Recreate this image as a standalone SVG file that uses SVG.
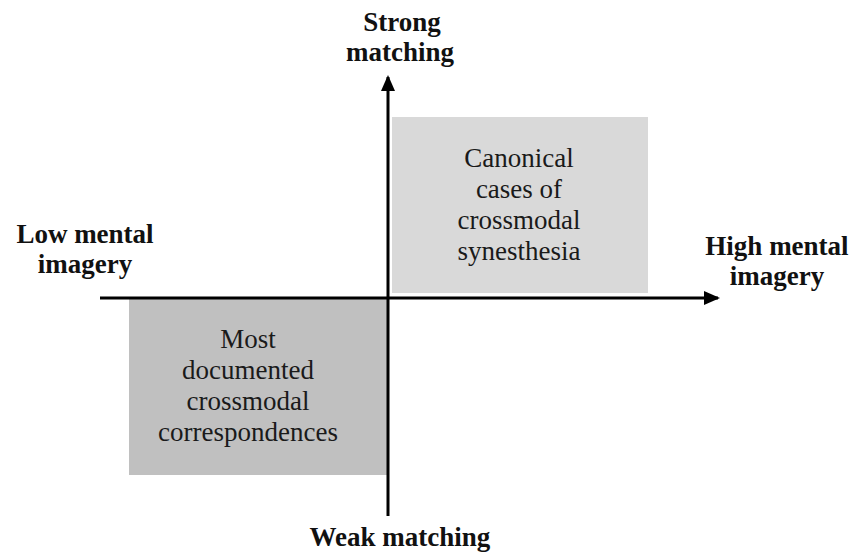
<svg xmlns="http://www.w3.org/2000/svg" width="860" height="555" viewBox="0 0 860 555">
<defs>
<style>
.q{font-family:"Liberation Serif","Times New Roman",serif;font-size:27px;fill:#1a1a1a;text-anchor:middle}
.ax{font-family:"Liberation Serif","Times New Roman",serif;font-size:27px;font-weight:bold;fill:#111;text-anchor:middle}
.axis{stroke:#000;stroke-width:3;fill:none}
</style>
<marker id="arr" markerWidth="16" markerHeight="14" refX="14" refY="7" orient="auto" markerUnits="userSpaceOnUse">
<path d="M0,0 L16,7 L0,14 Z" fill="#000"/>
</marker>
</defs>
<rect width="860" height="555" fill="#fff"/>
<g id="canonical">
<rect x="392" y="117" width="256" height="176" fill="#d9d9d9"/>
<text class="q" x="519" y="167">Canonical</text>
<text class="q" x="519" y="198">cases of</text>
<text class="q" x="519" y="229">crossmodal</text>
<text class="q" x="519" y="260">synesthesia</text>
</g>
<g id="correspondences">
<rect x="129" y="299" width="259" height="176" fill="#c0c0c0"/>
<text class="q" x="248" y="348">Most</text>
<text class="q" x="248" y="379">documented</text>
<text class="q" x="248" y="410">crossmodal</text>
<text class="q" x="248" y="441">correspondences</text>
</g>
<g id="connectors">
<line class="axis" x1="100" y1="298" x2="718" y2="298" marker-end="url(#arr)"/>
<line class="axis" x1="388" y1="516" x2="388" y2="77" marker-end="url(#arr)"/>
</g>
<g id="labels">
<text class="ax" x="402" y="31">Strong</text>
<text class="ax" x="400" y="61">matching</text>
<text class="ax" x="85" y="243">Low mental</text>
<text class="ax" x="85" y="273">imagery</text>
<text class="ax" x="777" y="255">High mental</text>
<text class="ax" x="777" y="285">imagery</text>
<text class="ax" x="400" y="546">Weak matching</text>
</g>
</svg>
